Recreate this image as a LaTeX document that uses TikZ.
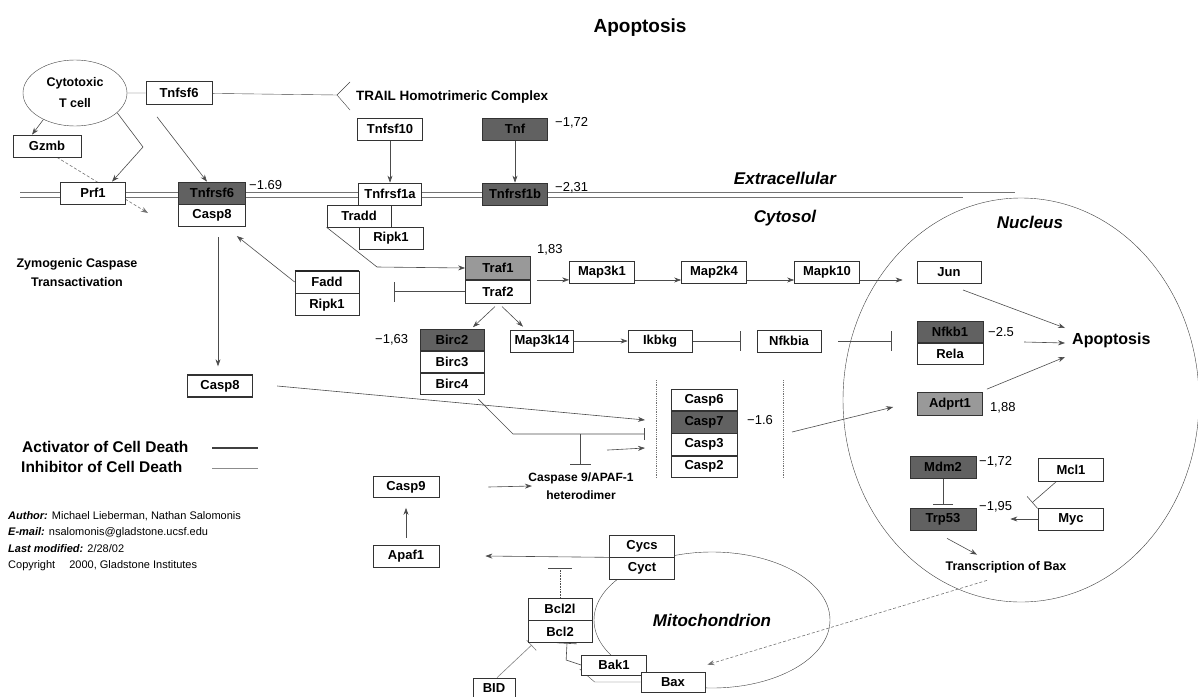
\documentclass[tikz,border=0pt]{standalone}
\usepackage{fontspec}
\setmainfont{Liberation Sans}
\usetikzlibrary{positioning,shapes.geometric,arrows.meta}
\pgfdeclarelayer{bg}
\pgfsetlayers{bg,main}

\begin{document}
\begin{tikzpicture}[x=1pt,y=-1pt,
    gene/.style={draw=black!80,fill=white,line width=0.7pt,minimum width=65pt,minimum height=22pt,inner sep=0pt,font=\fontsize{13}{13}\selectfont\bfseries},
    dark/.style={gene,fill=black!62},
    grey/.style={gene,fill=black!40},
    val/.style={inner sep=0pt,anchor=west,font=\fontsize{13}{13}\selectfont},
    region/.style={font=\fontsize{17}{17}\selectfont\bfseries\itshape},
    note/.style={align=center,font=\fontsize{12.5}{19}\selectfont\bfseries},
    act/.style={draw=black!70,line width=0.6pt,-{Stealth[length=7pt,width=5pt]}},
    inh/.style={draw=black!70,line width=0.6pt,-{Bar[width=20pt]}},
    wall/.style={black!55,line width=1pt}]
\useasboundingbox (0,0) rectangle (1198,696);

% compartments
\node[draw=black!75,ellipse,minimum width=356pt,minimum height=404pt] (nucleus) at (1021,400) {};
\node[draw=black!75,ellipse,minimum width=236pt,minimum height=136pt,region] (mito) at (712,620) {Mitochondrion};
\node[font=\fontsize{19}{19}\selectfont\bfseries] (title) at (640,28) {Apoptosis};
\node[region] (extra) at (785,178) {Extracellular};
\node[region] (cyto) at (785,218) {Cytosol};
\node[region] (nucl) at (1030,222) {Nucleus};

% receptors at the membrane
\node[draw=black!75,ellipse,minimum width=104pt,minimum height=66pt,align=center,font=\fontsize{12.5}{21}\selectfont\bfseries] (tcell) at (75,93) {Cytotoxic\\T cell};
\node[gene,minimum width=66pt,minimum height=23pt] (tnfsf6) at (179,93) {Tnfsf6};
\node[gene,minimum width=68pt] (gzmb) at (47,146) {Gzmb};
\node[gene] (prf1) at (93,193) {Prf1};
\node[dark,minimum width=67pt] (tnfrsf6) at (212,193) {Tnfrsf6};
\node[gene,minimum width=67pt] (casp8m) [below=0pt of tnfrsf6] {Casp8};
\node[val] (v169) at (249,185) {−1.69};
\coordinate (trail) at (337,95);
\coordinate (trailup) at (350,82);
\coordinate (traildn) at (350,110);
\node[anchor=west,inner sep=0pt,font=\fontsize{13.5}{13.5}\selectfont\bfseries] (trailtxt) at (356,97) {TRAIL Homotrimeric Complex};
\node[gene] (tnfsf10) at (390,129) {Tnfsf10};
\node[dark] (tnf) at (515,129) {Tnf};
\node[val] (v172a) at (555,123) {−1,72};
\node[gene,minimum width=63pt] (tnfrsf1a) at (390,194) {Tnfrsf1a};
\node[dark] (tnfrsf1b) at (515,194) {Tnfrsf1b};
\node[val] (v231) at (555,188) {−2,31};
\node[gene,minimum width=64pt] (tradd) at (359,216) {Tradd};
\node[gene,minimum width=64pt] (ripk1a) at (391,238) {Ripk1};
\node[gene,minimum width=64pt] (fadd) at (327,282) {Fadd};
\node[gene,minimum width=64pt] (ripk1b) [below=0pt of fadd] {Ripk1};
\node[gene,line width=1.4pt] (casp8) at (220,386) {Casp8};
\node[note] (zymo) at (77,273) {Zymogenic Caspase\\Transactivation};

% cytosol signalling
\node[grey,minimum height=23pt] (traf1) at (498,268) {Traf1};
\node[gene,minimum height=23pt] (traf2) [below=0pt of traf1] {Traf2};
\node[val] (v183) at (537,250) {1,83};
\node[gene] (map3k1) at (602,272) {Map3k1};
\node[gene] (map2k4) at (714,272) {Map2k4};
\node[gene] (mapk10) at (827,272) {Mapk10};
\node[gene,minimum width=64pt] (jun) at (949,272) {Jun};
\node[dark,minimum width=64pt,minimum height=21pt] (birc2) at (452,340) {Birc2};
\node[gene,minimum width=64pt,minimum height=21pt] (birc3) [below=0pt of birc2] {Birc3};
\node[gene,minimum width=64pt,minimum height=21pt] (birc4) [below=0pt of birc3] {Birc4};
\node[val] (v163) at (375,340) {−1,63};
\node[gene,minimum width=63pt] (map3k14) at (542,341) {Map3k14};
\node[gene,minimum width=64pt] (ikbkg) at (660,341) {Ikbkg};
\node[gene,minimum width=64pt] (nfkbia) at (789,341) {Nfkbia};

% caspases
\node[gene,minimum width=66pt,minimum height=21.5pt] (casp6) at (704,400) {Casp6};
\node[dark,minimum width=66pt,minimum height=21.5pt] (casp7) [below=0pt of casp6] {Casp7};
\node[gene,minimum width=66pt,minimum height=21.5pt] (casp3) [below=0pt of casp7] {Casp3};
\node[gene,minimum width=66pt,minimum height=21.5pt] (casp2) [below=0pt of casp3] {Casp2};
\node[val] (v16) at (747,420) {−1.6};
\coordinate (lbrk) at (645,434);
\coordinate (rbrk) at (783,429);
\node[note,font=\fontsize{12}{18}\selectfont\bfseries] (hetero) at (581,486) {Caspase 9/APAF-1\\heterodimer};
\coordinate (inhjoin) at (580,434);
\coordinate (hetbar) at (580,465);
\node[gene,minimum width=66pt,minimum height=21pt] (casp9) at (406,487) {Casp9};
\node[gene,minimum width=66pt] (apaf1) at (406,556) {Apaf1};

% mitochondrion
\node[gene] (cycs) at (642,546) {Cycs};
\node[gene] (cyct) [below=0pt of cycs] {Cyct};
\node[gene,minimum width=64pt] (bcl2l) at (560,609) {Bcl2l};
\node[gene,minimum width=64pt] (bcl2) [below=0pt of bcl2l] {Bcl2};
\node[gene,minimum height=20pt] (bak1) at (614,665) {Bak1};
\node[gene,minimum width=64pt,minimum height=20pt] (bax) at (673,682) {Bax};
\node[gene,minimum width=42pt,minimum height=20pt] (bid) at (494,688) {BID};

% nucleus
\node[dark,minimum width=66pt,minimum height=21pt] (nfkb1) at (950,332) {Nfkb1};
\node[gene,minimum width=66pt,minimum height=21pt] (rela) [below=0pt of nfkb1] {Rela};
\node[val] (v25) at (988,332) {−2.5};
\node[anchor=west,inner sep=0pt,font=\fontsize{16}{16}\selectfont\bfseries] (apopt) at (1072,340) {Apoptosis};
\node[grey,minimum height=23pt] (adprt1) at (950,404) {Adprt1};
\node[val] (v188) at (990,408) {1,88};
\node[dark,minimum width=66pt] (mdm2) at (943,467) {Mdm2};
\node[val] (v172b) at (979,462) {−1,72};
\node[dark,minimum width=66pt] (trp53) at (943,519) {Trp53};
\node[val] (v195) at (979,507) {−1,95};
\node[gene,minimum height=23pt] (mcl1) at (1071,470) {Mcl1};
\node[gene] (myc) at (1071,519) {Myc};
\node[note] (transc) at (1006,567) {Transcription of Bax};

% legend and credits
\node[anchor=west,inner sep=0pt,font=\fontsize{15.5}{15.5}\selectfont\bfseries] (legact) at (22,447) {Activator of Cell Death};
\node[anchor=west,inner sep=0pt,font=\fontsize{15.5}{15.5}\selectfont\bfseries] (leginh) at (21,467) {Inhibitor of Cell Death};
\node[anchor=west,inner sep=0pt,align=left,font=\fontsize{11}{16.5}\selectfont] (credits) at (8,541)
  {\textbf{\textit{Author:}} Michael Lieberman, Nathan Salomonis\\
   \textbf{\textit{E-mail:}} nsalomonis@gladstone.ucsf.edu\\
   \textbf{\textit{Last modified:}} 2/28/02\\
   Copyright\quad\ 2000, Gladstone Institutes};

\begin{pgfonlayer}{bg}
  \draw[wall] (20,192) -- (1015,192);
  \draw[wall] (20,197) -- (963,197);
  \draw[black!75] (tcell) -- (tnfsf6) -- (trail);
  \draw[black!75] (trailup) -- (trail) -- (traildn);
  \draw[act] (tcell.220) -- ([xshift=-15pt]gzmb.north);
  \draw[act] (tcell.-25) -- (143,147) -- ([xshift=19pt]prf1.north);
  \draw[act] ([shift={(-22pt,-12pt)}]tnfsf6.south) -- ([xshift=-5pt]tnfrsf6.north);
  \draw[act,densely dashed,black!55] ([xshift=10pt]gzmb.south) -- (148,213);
  \path (tnfsf10) edge[act] (tnfrsf1a)
        (tnf) edge[act] (tnfrsf1b);
  \draw[act] (tradd.south west) -- (377,267) -- (traf1.west);
  \draw[inh] (traf2.west) -- ++(-71,0);
  \draw[act] (fadd.west) -- ([shift={(-9pt,-9pt)}]casp8m.south east);
  \draw[act] ([shift={(6pt,-10pt)}]casp8m.south) -- ([shift={(-2pt,8pt)}]casp8.north);
  % MAP kinase cascade
  \draw[act] ([xshift=6pt]traf1.south east) -- (map3k1.west |- traf1.south);
  \draw[act] ([yshift=-8pt]map3k1.east) -- ([yshift=-8pt]map2k4.west);
  \draw[act] ([yshift=-8pt]map2k4.east) -- ([yshift=-8pt]mapk10.west);
  \draw[act] ([yshift=-8pt]mapk10.east) -- ([shift={(-14pt,-8pt)}]jun.west);
  \draw[act] ([shift={(14pt,-18pt)}]jun.center) -- ([shift={(-7pt,12pt)}]apopt.west);
  \draw[act] ([shift={(-3pt,-3pt)}]traf2.south) -- ([xshift=21pt,yshift=2pt]birc2.north);
  \draw[act] ([shift={(4pt,-3pt)}]traf2.south) -- ([shift={(-19pt,3pt)}]map3k14.north);
  \draw[act] (map3k14) -- (ikbkg);
  \draw[inh] (ikbkg.east) -- ([xshift=-16pt]nfkbia.west);
  \draw[inh] ([xshift=17pt]nfkbia.east) -- ([shift={(-25pt,-9pt)}]nfkb1.west);
  \draw[act] ([shift={(10pt,-10pt)}]v25.east) -- ([shift={(-7pt,-3pt)}]apopt.west);
  \draw[act] ([shift={(4pt,3pt)}]adprt1.north east) -- ([shift={(-7pt,-17pt)}]apopt.west);
  % caspase activation
  \draw[black!55,densely dotted,line width=0.8pt] (656,380) -- (656,478);
  \draw[black!55,densely dotted,line width=0.8pt] (rbrk |- 0,380) -- (rbrk |- 0,478);
  \draw[act] ([xshift=24pt]casp8.east) -- ([yshift=14pt]lbrk);
  \draw[inh,-{Bar[width=12pt]}] ([shift={(-6pt,-5pt)}]birc4.south east) -- (513,434) -- (lbrk);
  \draw[inh,-{Bar[width=21pt]}] (inhjoin) -- (hetbar);
  \draw[act] ([shift={(26pt,19pt)}]hetero.north) -- ([yshift=-14pt]lbrk);
  \draw[act] ([xshift=49pt]casp9.east) -- ([xshift=7pt]hetero.west);
  \draw[act] ([yshift=7pt]apaf1.north) -- ([yshift=-10pt]casp9.south);
  \draw[act] ([shift={(9pt,-3pt)}]rbrk) -- ([shift={(-24pt,-3pt)}]adprt1.west);
  % mitochondrion
  \draw[act] (cycs.south west) -- ([xshift=46pt]apaf1.east);
  \draw[inh,densely dotted,-{Bar[width=24pt]}] (bcl2l.north) -- ([yshift=30pt]bcl2l.north);
  \draw[inh,black!50,-{Bar[width=14pt]}] ([xshift=3pt]bid.north) -- ([shift={(4pt,-2pt)}]bcl2.south west);
  \draw[inh] (bak1.west) -- ++(-15,-5) -- ([xshift=7pt]bcl2.south);
  \draw[black!70] (bax.west) -- ++(-46,0) -- ++(-15,-13);
  \draw[act,densely dashed,black!55] ([shift={(-19pt,-4pt)}]transc.south) -- ([shift={(2pt,7pt)}]bax.north east);
  % nucleus
  \draw[inh] (mdm2.south) -- ([yshift=3pt]trp53.north);
  \draw[act] (myc.west) -- ([xshift=34pt]trp53.east);
  \draw[inh,-{Bar[width=16pt]}] ([xshift=-15pt]mcl1.south) -- ([shift={(-6pt,5pt)}]myc.north west);
  \draw[act] ([shift={(4pt,-8pt)}]trp53.south) -- ([shift={(-29pt,3pt)}]transc.north);
  % legend lines
  \draw[black!75,line width=1.2pt] (212,448) -- (258,448);
  \draw[black!45,line width=1pt] (212,468) -- (258,468);
\end{pgfonlayer}
\draw[line width=1.8pt,black!85] (fadd.north west) -- (fadd.north east);
\end{tikzpicture}
\end{document}
